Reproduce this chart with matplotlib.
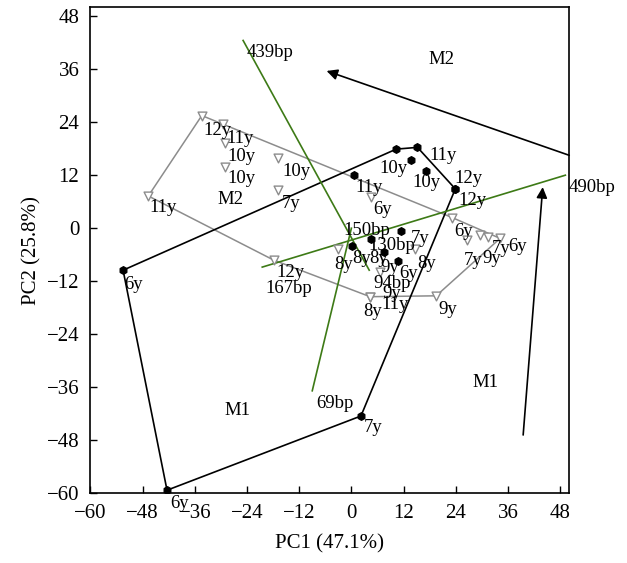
import numpy as np
import matplotlib
matplotlib.use('Agg')
import matplotlib.pyplot as plt

plt.rcParams['font.family'] = ['Liberation Serif', 'DejaVu Serif']

# Group M1 (filled black points)
m1_x = [-52.5, 10.3, 15.2, 23.9, 23.9, 2.2, -42.4, 13.7, 17.1, 0.5, 11.4, 4.5, 0.1, 7.5, 10.8]
m1_y = [-9.5, 17.9, 18.3, 8.9, 8.9, -42.5, -59.3, 15.5, 13.0, 12.0, -0.6, -2.5, -4.0, -5.4, -7.5]
m1_lab = ['6y', '', '11y', '12y', '12y', '7y', '6y', '10y', '10y', '11y', '7y', '8y', '8y', '9y', '6y']

# Group M2 (open grey triangles)
m2_x = [-34.4, -29.5, -29.1, -29.1, -16.8, -16.8, -46.7, -17.9, 4.5, 23.2,
        -3.0, 14.6, 6.6, 4.3, 4.3, 19.5, 26.5, 29.6, 31.5, 34.2]
m2_y = [25.5, 23.5, 19.3, 13.9, 16.0, 8.7, 7.3, -7.2, 7.1, 2.4,
        -4.6, -4.6, -9.9, -15.5, -15.5, -15.3, -2.7, -1.6, -2.1, -2.3]
m2_lab = ['12y', '11y', '10y', '10y', '10y', '7y', '11y', '12y', '6y', '6y',
          '8y', '8y', '9y', '8y', '11y', '9y', '7y', '9y', '7y', '6y']

# label offsets in pixels (right, down)
m1_off = [(10, 14), (0, 0), (26, 8), (17, 12), (13, -10), (12, 12), (13, 13), (-17, 9),
          (1, 12), (16, 12), (19, 8), (8, 19), (10, 13), (6, 15), (10, 12)]
m2_off = [(16, 15), (17, 14), (17, 14), (17, 12), (18, 14), (13, 14), (15, 12), (17, 12),
          (12, 13), (11, 14), (5, 16), (12, 15), (12, 22), (3, 15), (25, 8), (12, 14),
          (6, 20), (12, 23), (13, 11), (17, 8)]

# Variable axes (bp loadings): start and end points
var_lines = {
    '439bp': ((-24.9, 42.5), (4.1, -9.5)),
    '69bp': ((0.0, 0.0), (-9.0, -36.8)),
    '490bp': ((-20.5, -8.8), (49.2, 12.0)),
}
var_names = ['439bp', '490bp', '69bp', '167bp', '150bp', '130bp', '94bp']
var_lx = [-18.6, 55.3, -3.8, -14.3, 3.5, 9.3, 9.3]
var_ly = [39.7, 9.3, -39.6, -13.6, -0.5, -3.9, -12.5]

# Arrows (tail -> head)
arrows = [((50.1, 16.5), (-5.7, 35.6)), ((39.5, -46.8), (44.0, 9.3))]

# Group names
grp_names = ['M2', 'M2', 'M1', 'M1']
grp_x = [20.6, -27.7, 30.8, -26.2]
grp_y = [38.2, 6.4, -35.0, -41.2]


def hull(xs, ys):
    pts = sorted(set(zip(xs, ys)))

    def cross(o, a, b):
        return (a[0] - o[0]) * (b[1] - o[1]) - (a[1] - o[1]) * (b[0] - o[0])
    lower, upper = [], []
    for p in pts:
        while len(lower) >= 2 and cross(lower[-2], lower[-1], p) <= 0:
            lower.pop()
        lower.append(p)
    for p in reversed(pts):
        while len(upper) >= 2 and cross(upper[-2], upper[-1], p) <= 0:
            upper.pop()
        upper.append(p)
    h = lower[:-1] + upper[:-1]
    h.append(h[0])
    return [p[0] for p in h], [p[1] for p in h]


fig = plt.figure(figsize=(6.27, 5.63), dpi=100)
ax = fig.add_axes([0.1443, 0.1238, 0.7636, 0.8632])

# hulls
hx, hy = hull(m2_x, m2_y)
ax.plot(hx, hy, color='#8c8c8c', lw=1.1, zorder=1)
hx, hy = hull(m1_x, m1_y)
ax.plot(hx, hy, color='black', lw=1.2, zorder=2)

# variable lines
for name, (p0, p1) in var_lines.items():
    ax.plot([p0[0], p1[0]], [p0[1], p1[1]], color='#3d7a16', lw=1.2, zorder=3)

# points
ax.scatter(m2_x, m2_y, marker='v', s=40, facecolors='white', edgecolors='#8c8c8c',
           linewidths=1.0, zorder=4)
ax.scatter(m1_x, m1_y, marker='h', s=30, color='black', zorder=5)

# point labels
for x, y, t, (dx, dy) in zip(m1_x, m1_y, m1_lab, m1_off):
    if t:
        ax.annotate(t, (x, y), xytext=(dx * 0.72, -dy * 0.72), textcoords='offset points',
                    ha='center', va='center', fontsize=13.5, zorder=6)
for x, y, t, (dx, dy) in zip(m2_x, m2_y, m2_lab, m2_off):
    ax.annotate(t, (x, y), xytext=(dx * 0.72, -dy * 0.72), textcoords='offset points',
                ha='center', va='center', fontsize=13.5, zorder=6)

for t, x, y in zip(var_names, var_lx, var_ly):
    ax.text(x, y, t, ha='center', va='center', fontsize=13.5, clip_on=False, zorder=6)

for t, x, y in zip(grp_names, grp_x, grp_y):
    ax.text(x, y, t, ha='center', va='center', fontsize=13.5)

for tail, head in arrows:
    ax.annotate('', xy=head, xytext=tail,
                arrowprops=dict(arrowstyle='-|>', color='black', lw=1.2,
                                mutation_scale=16, shrinkA=0, shrinkB=0))

ax.set_xlim(-60, 50.1)
ax.set_ylim(-60, 50)
ax.set_xticks(np.arange(-60, 49, 12))
ax.set_yticks(np.arange(-60, 49, 12))
ax.tick_params(direction='in', length=5, width=1, labelsize=15, pad=8)
for s in ax.spines.values():
    s.set_linewidth(1.2)
ax.set_xlabel('PC1 (47.1%)', fontsize=15, labelpad=8)
ax.set_ylabel('PC2 (25.8%)', fontsize=15, labelpad=4)

fig.savefig('out.png', dpi=100)
